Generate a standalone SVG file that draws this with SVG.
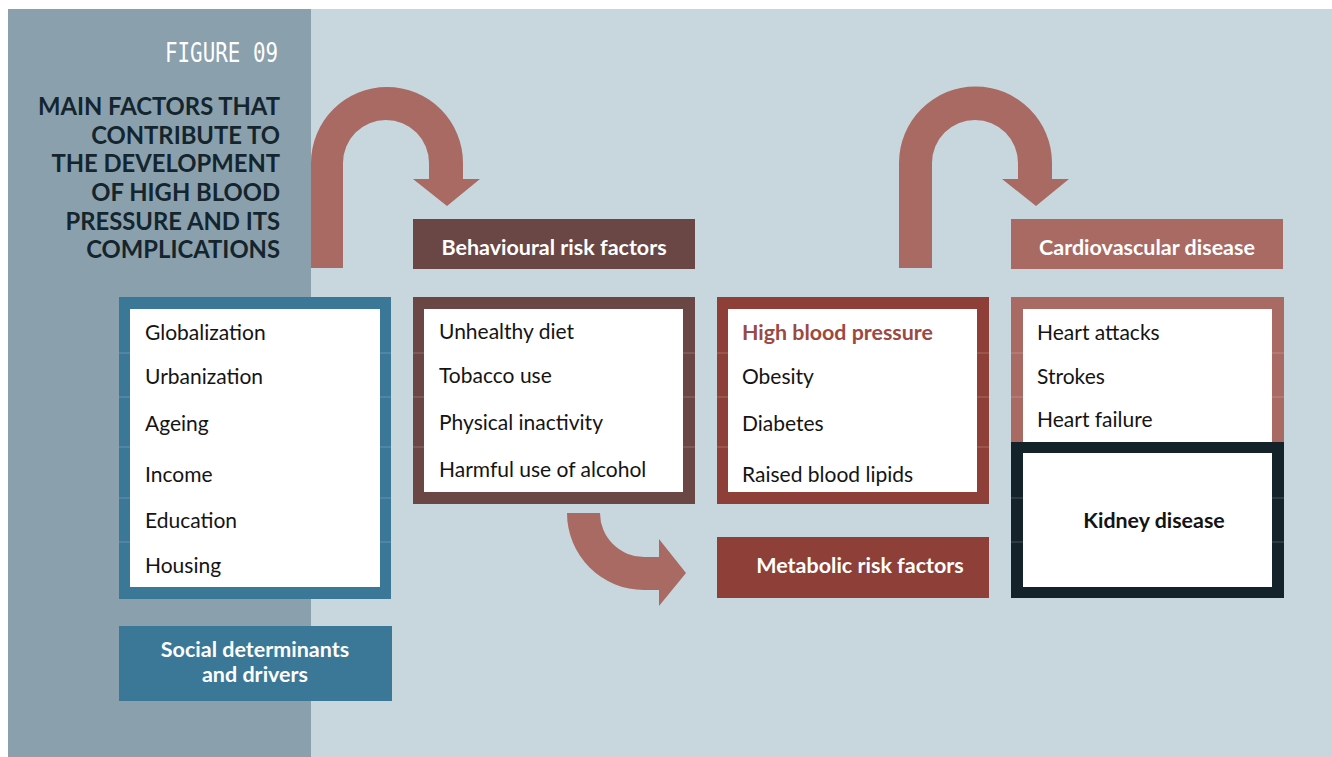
<svg xmlns="http://www.w3.org/2000/svg" width="1332" height="757" viewBox="0 0 1332 757">
<style>
.item{font-family:Lato,"Liberation Sans",sans-serif;font-size:21px;fill:#141414}
.bold{font-weight:bold;font-size:21.4px}
.lbl{font-family:Lato,"Liberation Sans",sans-serif;font-size:21.5px;font-weight:bold;fill:#ffffff}
.ttl{font-family:Lato,"Liberation Sans",sans-serif;font-size:23.8px;font-weight:bold;fill:#14252d;text-anchor:end}
.arrow{fill:#a96a63}
.sep{stroke:#ffffff;stroke-opacity:0.22;stroke-width:1}
</style>
<rect x="0" y="0" width="1332" height="757" fill="#ffffff"/>
<rect x="8" y="9" width="1324" height="748" fill="#c8d7de"/>
<rect x="8" y="9" width="303" height="748" fill="#8aa0ad"/>

<g id="title">
<text x="278" y="62" font-family="'DejaVu Sans Mono',monospace" font-size="26" fill="#ffffff" text-anchor="end" textLength="113" lengthAdjust="spacingAndGlyphs">FIGURE 09</text>
<text class="ttl" x="280" y="115">MAIN FACTORS THAT</text>
<text class="ttl" x="280" y="144">CONTRIBUTE TO</text>
<text class="ttl" x="280" y="172">THE DEVELOPMENT</text>
<text class="ttl" x="280" y="201">OF HIGH BLOOD</text>
<text class="ttl" x="280" y="230">PRESSURE AND ITS</text>
<text class="ttl" x="280" y="258">COMPLICATIONS</text>
</g>

<g id="connectors">
<path class="arrow" d="M311,268 L311,163 A76,76 0 0 1 463,163 L463,179 L480,179 L447,206 L413,179 L429,179 L429,163 A43,43 0 0 0 343,163 L343,268 Z"/>
<path class="arrow" d="M899,268 L899,163 A76.5,76.5 0 0 1 1052,163 L1052,179 L1069,179 L1036,206 L1002,179 L1018,179 L1018,163 A43,43 0 0 0 932,163 L932,268 Z"/>
<path class="arrow" d="M567,513 A77,77 0 0 0 644,590 L659,590 L659,606 L686,573 L659,539 L659,557 L644,557 A44,44 0 0 1 600,513 Z"/>
</g>

<g id="social">
<rect x="119" y="297" width="272" height="302" fill="#3b7897"/>
<rect x="130" y="309" width="250" height="278" fill="#ffffff"/>
<g class="sep">
<line x1="119" y1="353" x2="130" y2="353"/><line x1="380" y1="353" x2="391" y2="353"/>
<line x1="119" y1="397" x2="130" y2="397"/><line x1="380" y1="397" x2="391" y2="397"/>
<line x1="119" y1="447" x2="130" y2="447"/><line x1="380" y1="447" x2="391" y2="447"/>
<line x1="119" y1="498" x2="130" y2="498"/><line x1="380" y1="498" x2="391" y2="498"/>
<line x1="119" y1="542" x2="130" y2="542"/><line x1="380" y1="542" x2="391" y2="542"/>
</g>
<text class="item" x="145" y="340">Globalization</text>
<text class="item" x="145" y="384">Urbanization</text>
<text class="item" x="145" y="431">Ageing</text>
<text class="item" x="145" y="482">Income</text>
<text class="item" x="145" y="528">Education</text>
<text class="item" x="145" y="573">Housing</text>
</g>

<g id="social-label">
<rect x="119" y="626" width="273" height="75" fill="#3b7897"/>
<text class="lbl" x="255" y="657" text-anchor="middle">Social determinants</text>
<text class="lbl" x="255" y="682" text-anchor="middle">and drivers</text>
</g>

<g id="behavioural-label">
<rect x="413" y="219" width="282" height="50" fill="#6a4744"/>
<text class="lbl" x="554" y="255" text-anchor="middle">Behavioural risk factors</text>
</g>

<g id="behavioural">
<rect x="413" y="297" width="282" height="207" fill="#6a4744"/>
<rect x="424" y="309" width="259" height="183" fill="#ffffff"/>
<g class="sep">
<line x1="413" y1="353" x2="424" y2="353"/><line x1="683" y1="353" x2="695" y2="353"/>
<line x1="413" y1="397" x2="424" y2="397"/><line x1="683" y1="397" x2="695" y2="397"/>
<line x1="413" y1="447" x2="424" y2="447"/><line x1="683" y1="447" x2="695" y2="447"/>
</g>
<text class="item" x="439" y="339">Unhealthy diet</text>
<text class="item" x="439" y="383">Tobacco use</text>
<text class="item" x="439" y="430">Physical inactivity</text>
<text class="item" x="439" y="477">Harmful use of alcohol</text>
</g>

<g id="metabolic">
<rect x="717" y="297" width="272" height="207" fill="#8e4038"/>
<rect x="728" y="309" width="249" height="183" fill="#ffffff"/>
<g class="sep">
<line x1="717" y1="353" x2="728" y2="353"/><line x1="977" y1="353" x2="989" y2="353"/>
<line x1="717" y1="397" x2="728" y2="397"/><line x1="977" y1="397" x2="989" y2="397"/>
<line x1="717" y1="447" x2="728" y2="447"/><line x1="977" y1="447" x2="989" y2="447"/>
</g>
<text class="item bold" x="742" y="340" style="fill:#9b4a42">High blood pressure</text>
<text class="item" x="742" y="384">Obesity</text>
<text class="item" x="742" y="431">Diabetes</text>
<text class="item" x="742" y="482">Raised blood lipids</text>
</g>

<g id="metabolic-label">
<rect x="717" y="537" width="272" height="61" fill="#8e4038"/>
<text class="lbl" x="860" y="573" text-anchor="middle">Metabolic risk factors</text>
</g>

<g id="cardio-label">
<rect x="1011" y="219" width="272" height="50" fill="#a96a63"/>
<text class="lbl" x="1147" y="255" text-anchor="middle">Cardiovascular disease</text>
</g>

<g id="cardio">
<rect x="1011" y="297" width="273" height="146" fill="#a96a63"/>
<rect x="1023" y="309" width="249" height="134" fill="#ffffff"/>
<g class="sep">
<line x1="1011" y1="353" x2="1023" y2="353"/><line x1="1272" y1="353" x2="1284" y2="353"/>
<line x1="1011" y1="397" x2="1023" y2="397"/><line x1="1272" y1="397" x2="1284" y2="397"/>
</g>
<text class="item" x="1037" y="340">Heart attacks</text>
<text class="item" x="1037" y="384">Strokes</text>
<text class="item" x="1037" y="427">Heart failure</text>
</g>

<g id="kidney">
<rect x="1011" y="442" width="273" height="156" fill="#14222a"/>
<rect x="1023" y="453" width="249" height="134" fill="#ffffff"/>
<g class="sep">
<line x1="1011" y1="498" x2="1023" y2="498"/><line x1="1272" y1="498" x2="1284" y2="498"/>
<line x1="1011" y1="542" x2="1023" y2="542"/><line x1="1272" y1="542" x2="1284" y2="542"/>
</g>
<text class="item bold" x="1154" y="528" text-anchor="middle">Kidney disease</text>
</g>
</svg>
